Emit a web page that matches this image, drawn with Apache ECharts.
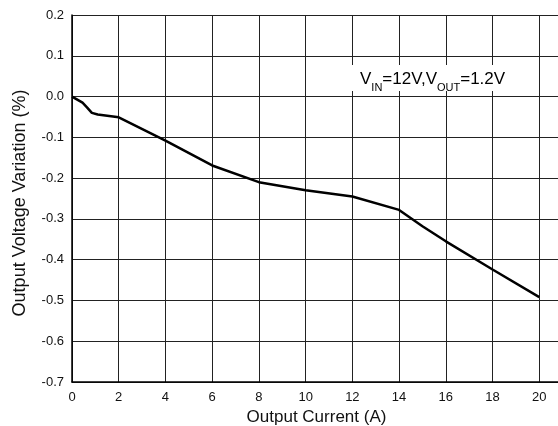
<!DOCTYPE html>
<html>
<head>
<meta charset="utf-8">
<script src="https://cdn.jsdelivr.net/npm/echarts@6/dist/echarts.min.js"></script>
<style>
  html, body { margin: 0; padding: 0; background: #fff; }
  #chart { width: 558px; height: 426px; }
</style>
</head>
<body>
<div id="chart"></div>
<script>
// output current (A) and output voltage variation (%)
const currents = [0, 0.45, 0.65, 0.85, 1.1, 2, 4, 6, 8, 10, 12, 14, 15, 16, 18, 20]
const variation = [0, -0.015, -0.027, -0.040, -0.044, -0.051, -0.108, -0.169, -0.210, -0.230, -0.245, -0.278, -0.318, -0.355, -0.424, -0.492]

const fontFamily = '"Liberation Sans", Arial, Helvetica, sans-serif'

const chart = echarts.init(document.getElementById('chart'))

chart.setOption({
  animation: false,
  grid: {
    left: 72,
    right: -28,
    top: 15,
    bottom: 44,
    containLabel: false,
    outerBoundsMode: 'none'
  },
  xAxis: {
    type: 'value',
    min: 0,
    max: 22,
    interval: 2,
    name: 'Output Current (A)',
    nameLocation: 'middle',
    nameGap: 27,
    nameTextStyle: { fontFamily, fontSize: 17, color: '#111', padding: [0, 25, 0, 0] },
    axisLine: { show: true, onZero: false, lineStyle: { color: '#000', width: 1.5 } },
    axisTick: { show: false },
    axisLabel: { fontFamily, fontSize: 13, color: '#111', margin: 9 },
    splitLine: { show: true, lineStyle: { color: '#222', width: 1 } }
  },
  yAxis: {
    type: 'value',
    min: -0.7,
    max: 0.2,
    interval: 0.1,
    name: 'Output Voltage Variation (%)',
    nameLocation: 'middle',
    nameGap: 43,
    nameTextStyle: { fontFamily, fontSize: 18, color: '#111', padding: [0, 9, 0, 0] },
    axisLine: { show: true, onZero: false, lineStyle: { color: '#000', width: 1.5 } },
    axisTick: { show: false },
    axisLabel: {
      fontFamily, fontSize: 13, color: '#111', margin: 8,
      formatter: v => (Math.round(v * 10) / 10).toFixed(1)
    },
    splitLine: { show: true, lineStyle: { color: '#222', width: 1 } }
  },
  graphic: [{
    type: 'text',
    left: 350,
    top: 65,
    z: 100,
    style: {
      text: '{n|V}{s|IN}{n|=12V,V}{s|OUT}{n|=1.2V}',
      backgroundColor: '#fff',
      padding: [6, 8, 2, 10],
      rich: {
        n: { fontFamily, fontSize: 17, lineHeight: 18, color: '#111', verticalAlign: 'top' },
        s: { fontFamily, fontSize: 11, lineHeight: 11, color: '#111', verticalAlign: 'top', padding: [11, 0, 0, 0] }
      }
    }
  }],
  series: [{
    type: 'line',
    data: currents.map((c, i) => [c, variation[i]]),
    showSymbol: false,
    lineStyle: { color: '#000', width: 2.5 },
    z: 5
  }]
})
</script>
</body>
</html>
